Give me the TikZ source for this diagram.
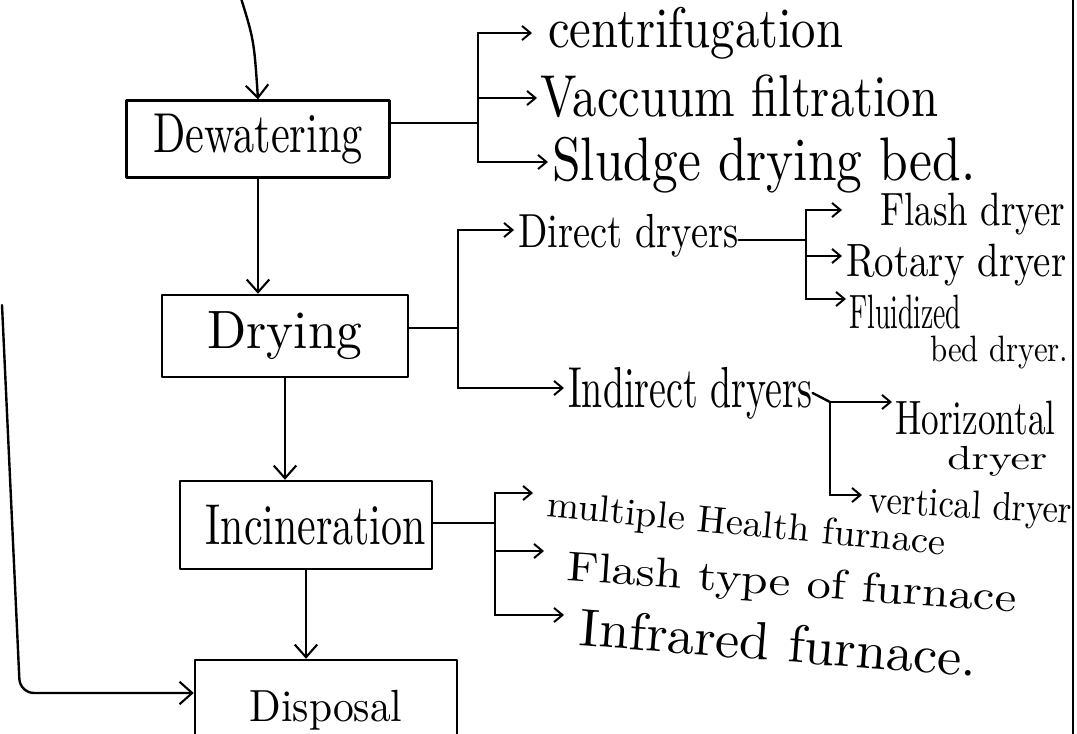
\documentclass[tikz,border=0pt]{standalone}
\usetikzlibrary{arrows.meta}
\newlength\pxu
\setlength\pxu{0.025cm}
% text fitted to a width and a total height, both in pixels
\newcommand\hw[3]{\resizebox*{#1\pxu}{#2\pxu}{#3}}
\tikzset{
  ink/.style={line width=1.7pt, draw=black, line cap=round, line join=round},
  box/.style={ink, rectangle, inner sep=0pt},
  arr/.style={ink, -{Straight Barb[length=9pt,width=16pt,line width=1.5pt]}},
  sarr/.style={ink, -{Straight Barb[length=6pt,width=10pt,line width=1.4pt]}},
  lab/.style={anchor=west, inner sep=0pt},
}
\begin{document}
\begin{tikzpicture}[x=0.025cm,y=-0.025cm]
\useasboundingbox (0,0) rectangle (1077,734);
\clip (0,0) rectangle (1077,734);
\fill[white] (0,0) rectangle (1077,734);

% main boxes
\node[box, minimum width=6.575cm, minimum height=1.925cm] (dew) at (258,139) {\hw{210}{50}{Dewatering}};
\node[box, minimum width=6.15cm, minimum height=2.05cm] (dry) at (285,336) {\raisebox{-5pt}{\hw{155}{48}{Drying}}};
\node[box, minimum width=6.3cm, minimum height=2.2cm] (inc) at (306,525) {\hspace{14pt}\hw{220}{40}{Incineration}};
\node[box, minimum width=6.55cm, minimum height=2.5cm] (dis) at (326,710) {\raisebox{2pt}{\hw{153}{40}{Disposal}}};

% main flow
\coordinate (src) at (240,-5);
\draw[arr] (src) .. controls (254,40) .. (dew.north);
\draw[arr] (dew.south) -- (dew.south |- dry.north);
\draw[arr] (dry.south) -- (dry.south |- inc.north);
\draw[arr] (inc.south) -- (inc.south |- dis.north);

% left return line
\coordinate (lt) at (2,305);
\coordinate (lb) at (20,693);
\draw[arr, rounded corners=10pt] (lt) -- (lb) -- (lb -| dis.west);

% right page edge
\coordinate (et) at (1073,0);
\coordinate (eb) at (1073,734);
\draw[ink] (et) -- (eb);

% Dewatering branch
\node[lab] (cen) at (548,33) {\hw{295}{52}{centrifugation}};
\node[lab] (vac) at (540,96) {\hw{398}{43}{Vaccuum filtration}};
\node[lab] (slu) at (552,165) {\hw{423}{56}{Sludge drying bed.}};
\coordinate (b1) at (478,123);
\coordinate (ac) at (532,33);
\coordinate (av) at (537,98);
\coordinate (as) at (548,162);
\draw[ink] (dew.east |- b1) -- (b1);
\draw[ink] (b1 |- ac) -- (b1 |- as);
\draw[sarr] (b1 |- ac) -- (ac);
\draw[sarr] (b1 |- av) -- (av);
\draw[sarr] (b1 |- as) -- (as);

% Drying branch
\node[lab] (dir) at (518,236) {\hw{220}{43}{Direct dryers}};
\node[lab] (ind) at (568,393) {\hw{244}{52}{Indirect dryers}};
\coordinate (b2) at (458,328);
\coordinate (ad) at (514,230);
\coordinate (ai) at (564,388);
\draw[ink] (dry.east |- b2) -- (b2);
\draw[ink] (b2 |- ad) -- (b2 |- ai);
\draw[sarr] (b2 |- ad) -- (ad);
\draw[sarr] (b2 |- ai) -- (ai);

% Direct dryers sub-branch
\node[lab] (fla) at (880,214) {\hw{185}{42}{Flash dryer}};
\node[lab] (rot) at (846,265) {\hw{220}{42}{Rotary dryer}};
\node[lab] (flu) at (849,312) {\hw{112}{34}{Fluidized}};
\node[lab] (flub) at (930,353) {\hw{138}{33}{bed dryer.}};
\coordinate (b3) at (806,240);
\coordinate (af) at (842,210);
\coordinate (ar) at (842,256);
\coordinate (al) at (846,299);
\draw[ink] (dir.east |- b3) -- (b3);
\draw[ink] (b3 |- af) -- (b3 |- al);
\draw[sarr] (b3 |- af) -- (af);
\draw[sarr] (b3 |- ar) -- (ar);
\draw[sarr] (b3 |- al) -- (al);

% Indirect dryers sub-branch
\node[lab] (hor) at (895,418) {\hw{160}{34}{Horizontal}};
\node[lab] (hor2) at (947,461) {\hw{100}{30}{dryer}};
\node[lab, rotate=-3] (ver) at (869,503) {\hw{203}{36}{vertical dryer}};
\coordinate (b4) at (830,450);
\coordinate (ah) at (892,402);
\coordinate (aw) at (862,495);
\draw[ink] (ind.east) -- (b4 |- ah);
\draw[ink] (b4 |- ah) -- (b4 |- aw);
\draw[sarr] (b4 |- ah) -- (ah);
\draw[sarr] (b4 |- aw) -- (aw);

% Incineration branch
\node[lab, rotate=-5.5] (mul) at (547,507) {\hw{400}{34}{multiple Health furnace}};
\node[lab, rotate=-4] (fl2) at (567,570) {\hw{450}{38}{Flash type of furnace}};
\node[lab, rotate=-4.5] (inf) at (580,627) {\hw{398}{38}{Infrared furnace.}};
\coordinate (b5) at (495,523);
\coordinate (a1) at (533,493);
\coordinate (a2) at (544,551);
\coordinate (a3) at (564,615);
\draw[ink] (inc.east |- b5) -- (b5);
\draw[ink] (b5 |- a1) -- (b5 |- a3);
\draw[sarr] (b5 |- a1) -- (a1);
\draw[sarr] (b5 |- a2) -- (a2);
\draw[sarr] (b5 |- a3) -- (a3);
\end{tikzpicture}
\end{document}
